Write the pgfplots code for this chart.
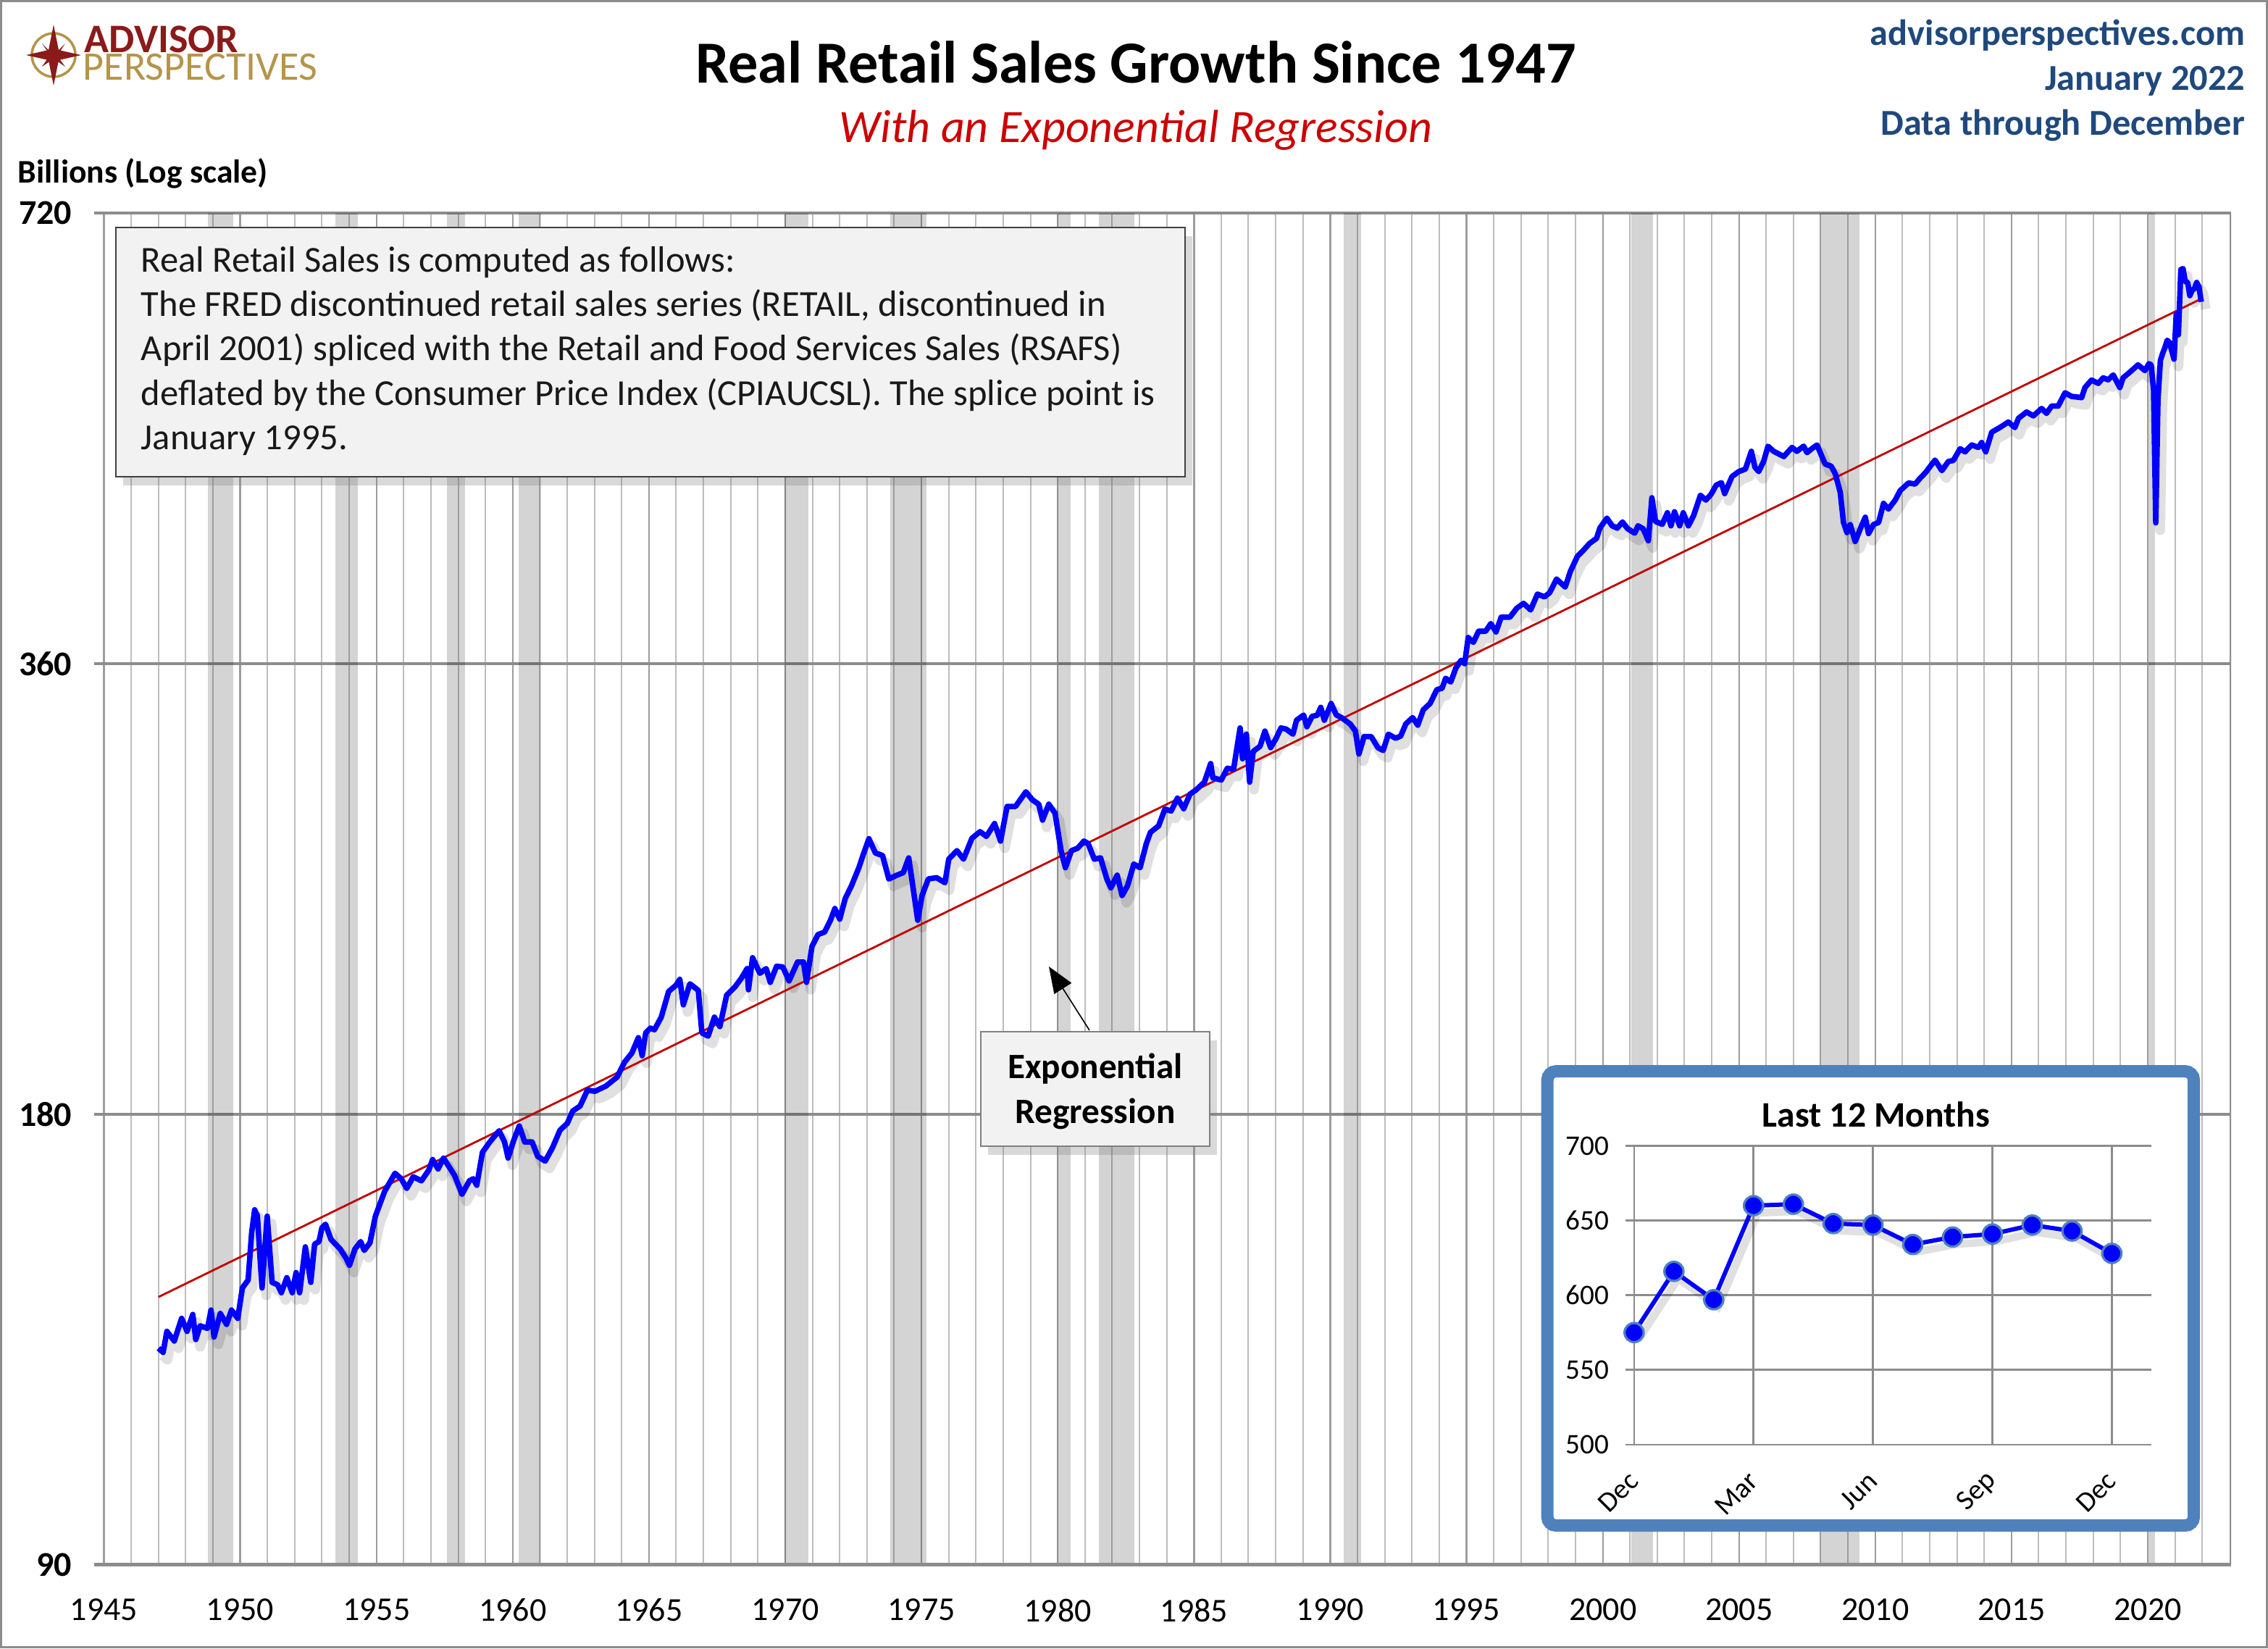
\documentclass[border=0pt]{standalone}
\usepackage{pgfplots}
\pgfplotsset{compat=1.18}
\usepackage{pgfplotstable}
\usepackage{fontspec}
\setmainfont{Carlito}
\usetikzlibrary{shadows,arrows.meta}
\definecolor{navy}{HTML}{1F497D}
\definecolor{apred}{HTML}{8B1A1A}
\definecolor{apgold}{HTML}{B5954A}
\definecolor{subred}{HTML}{CC0000}
\definecolor{regred}{HTML}{C00000}
\definecolor{inblue}{HTML}{4F81BD}
\definecolor{boxgray}{HTML}{F2F2F2}
\definecolor{gridminor}{HTML}{BDBDBD}
\definecolor{gridmajor}{HTML}{8C8C8C}

\pgfplotstableread{
year value
1947.00 125.6
1947.17 124.8
1947.31 128.9
1947.58 127.0
1947.85 131.5
1948.05 128.9
1948.26 132.3
1948.37 127.3
1948.53 130.0
1948.80 129.5
1948.93 133.2
1949.04 127.8
1949.27 132.5
1949.50 130.3
1949.68 133.2
1949.91 131.5
1950.08 137.8
1950.29 139.5
1950.42 150.0
1950.53 155.4
1950.63 154.0
1950.80 137.8
1950.99 153.9
1951.17 139.0
1951.37 138.5
1951.51 136.8
1951.71 140.0
1951.91 136.8
1952.05 141.1
1952.18 136.8
1952.39 146.8
1952.59 139.0
1952.73 147.4
1952.89 148.0
1953.00 151.2
1953.13 152.0
1953.33 148.5
1953.67 146.3
1953.88 144.3
1954.01 142.7
1954.21 146.3
1954.42 148.0
1954.55 146.0
1954.76 147.7
1954.96 153.9
1955.30 159.9
1955.43 161.4
1955.68 164.4
1955.91 163.0
1956.11 160.6
1956.35 163.5
1956.65 162.5
1956.92 165.2
1957.06 167.9
1957.26 165.5
1957.46 168.3
1957.87 163.8
1958.14 159.2
1958.41 162.5
1958.55 163.0
1958.68 161.4
1958.89 169.8
1959.16 172.5
1959.50 175.5
1959.70 172.5
1959.83 168.3
1960.04 173.0
1960.24 176.8
1960.44 172.5
1960.71 172.5
1960.92 168.7
1961.19 167.5
1961.46 171.0
1961.73 175.6
1962.00 177.5
1962.20 180.9
1962.47 182.3
1962.74 186.8
1963.02 186.5
1963.42 188.0
1963.83 190.6
1964.10 195.0
1964.37 197.8
1964.61 202.5
1964.75 197.0
1964.88 204.0
1965.05 205.5
1965.20 205.0
1965.45 209.0
1965.72 217.4
1965.99 219.5
1966.13 221.5
1966.26 213.0
1966.50 220.0
1966.81 217.8
1966.94 204.0
1967.17 203.0
1967.40 209.0
1967.60 206.0
1967.85 216.2
1968.16 219.0
1968.39 221.9
1968.60 225.2
1968.65 218.0
1968.80 229.0
1969.07 223.6
1969.30 225.2
1969.45 220.5
1969.68 226.0
1969.91 225.8
1970.14 221.0
1970.45 227.5
1970.67 227.5
1970.78 220.5
1970.98 233.0
1971.20 237.3
1971.44 238.2
1971.66 242.6
1971.82 247.0
1972.00 243.0
1972.20 250.8
1972.43 255.8
1972.70 263.0
1972.85 268.0
1973.07 275.0
1973.31 269.0
1973.57 268.0
1973.80 258.5
1974.10 260.0
1974.33 261.0
1974.53 267.0
1974.68 255.8
1974.86 242.6
1975.02 252.0
1975.25 258.5
1975.55 259.0
1975.86 257.0
1976.00 266.5
1976.30 270.0
1976.54 266.5
1976.85 275.2
1977.15 278.0
1977.38 276.0
1977.68 281.5
1977.90 274.0
1978.14 289.0
1978.45 289.0
1978.83 295.6
1979.06 292.0
1979.30 290.0
1979.44 283.0
1979.67 290.0
1979.90 286.0
1980.12 270.0
1980.28 263.0
1980.50 270.0
1980.73 271.0
1980.96 274.0
1981.11 273.0
1981.34 266.5
1981.57 267.0
1981.80 258.5
1981.95 255.0
1982.18 260.0
1982.36 252.0
1982.56 255.8
1982.79 264.5
1983.02 263.0
1983.25 273.0
1983.40 277.7
1983.70 280.5
1983.93 287.8
1984.16 287.0
1984.39 292.7
1984.62 288.0
1984.85 294.5
1985.08 296.5
1985.38 300.0
1985.61 308.7
1985.69 302.0
1986.00 301.0
1986.22 306.5
1986.45 306.0
1986.69 326.1
1986.78 311.0
1986.92 323.0
1987.04 300.0
1987.17 314.5
1987.42 317.0
1987.60 324.5
1987.81 316.4
1988.00 320.6
1988.19 326.1
1988.38 325.5
1988.63 323.0
1988.76 330.0
1989.02 332.6
1989.14 326.7
1989.33 332.0
1989.52 332.5
1989.65 336.6
1989.78 330.0
1990.03 338.6
1990.22 332.7
1990.41 331.3
1990.73 328.1
1990.92 324.5
1991.05 313.3
1991.24 321.8
1991.50 321.8
1991.75 316.3
1991.94 315.0
1992.13 323.0
1992.39 321.0
1992.58 322.0
1992.77 328.1
1993.02 331.3
1993.21 327.5
1993.41 335.3
1993.66 338.6
1993.91 345.9
1994.10 346.6
1994.23 352.0
1994.42 350.0
1994.61 357.7
1994.80 361.9
1994.93 360.0
1995.06 374.8
1995.25 372.0
1995.44 378.4
1995.70 378.4
1995.89 382.9
1996.08 378.0
1996.27 386.7
1996.59 386.7
1996.84 392.0
1997.09 395.0
1997.35 391.0
1997.60 400.6
1997.86 399.0
1998.05 401.5
1998.30 410.0
1998.62 405.0
1998.81 414.9
1999.07 424.7
1999.26 428.0
1999.51 433.0
1999.77 436.5
1999.89 443.4
2000.15 450.3
2000.34 445.0
2000.53 443.4
2000.72 447.6
2000.91 443.0
2001.17 440.0
2001.29 445.0
2001.48 443.0
2001.67 434.9
2001.80 464.6
2001.93 448.0
2002.18 446.0
2002.37 454.0
2002.50 445.0
2002.63 454.7
2002.82 445.0
2002.95 454.0
2003.14 445.0
2003.33 452.0
2003.58 466.4
2003.78 463.0
2003.97 467.0
2004.16 473.7
2004.35 475.5
2004.47 467.6
2004.74 480.0
2004.99 483.7
2005.23 485.5
2005.45 499.0
2005.58 487.0
2005.72 483.7
2005.90 491.3
2006.06 502.9
2006.27 499.0
2006.64 495.0
2006.94 502.0
2007.12 499.0
2007.37 503.0
2007.49 498.0
2007.67 501.0
2007.86 503.9
2008.04 495.0
2008.16 489.3
2008.38 487.7
2008.53 482.0
2008.71 468.7
2008.83 447.3
2008.96 440.4
2009.08 445.8
2009.26 434.4
2009.51 445.8
2009.63 450.9
2009.75 439.7
2009.93 445.8
2010.12 447.3
2010.30 460.6
2010.48 456.6
2010.73 463.0
2010.91 469.7
2011.22 475.3
2011.46 474.5
2011.64 478.7
2011.83 482.7
2012.19 492.3
2012.44 484.4
2012.68 491.3
2012.86 492.0
2013.11 501.0
2013.29 498.6
2013.54 503.9
2013.78 502.0
2013.90 505.8
2014.05 498.6
2014.27 513.9
2014.57 517.6
2014.88 522.0
2015.12 517.6
2015.25 524.9
2015.55 530.1
2015.80 527.0
2016.10 533.0
2016.28 529.0
2016.47 535.0
2016.71 535.0
2016.96 546.0
2017.20 543.0
2017.57 542.0
2017.69 550.4
2017.93 556.8
2018.18 554.0
2018.36 558.7
2018.54 557.0
2018.73 561.2
2018.97 550.4
2019.09 558.7
2019.34 563.6
2019.64 570.0
2019.89 565.0
2020.04 571.0
2020.12 570.0
2020.21 548.0
2020.29 447.0
2020.37 540.0
2020.46 574.0
2020.54 580.0
2020.62 585.0
2020.71 592.0
2020.79 590.0
2020.87 583.0
2020.96 575.0
2021.04 616.0
2021.12 597.0
2021.21 660.0
2021.29 661.0
2021.37 648.0
2021.46 647.0
2021.54 634.0
2021.62 639.0
2021.71 641.0
2021.79 647.0
2021.87 643.0
2021.96 628.0
}\sales

\pgfplotstableread{
m value
0 575
1 616
2 597
3 660
4 661
5 648
6 647
7 634
8 639
9 641
10 647
11 643
12 628
}\lastyear

\pgfplotstableread{
x y
1947 135.9
2022 631.5
}\regline

\begin{document}
\begin{tikzpicture}
\begin{scope}[x=0.5pt,y=-0.5pt]
\path[use as bounding box] (0,0) rectangle (1565.5,1137.5);
\end{scope}

\begin{axis}[
  at={(32.5pt,-540pt)}, anchor=south west,
  scale only axis, width=737.5pt, height=466.5pt,
  xmin=1944.641, xmax=2023.053,
  ymode=log, ymin=90, ymax=720,
  ytick={90,180,360,720}, yticklabels={90,180,360,720},
  yminorticks=false,
  xtick={1945,1950,1955,1960,1965,1970,1975,1980,1985,1990,1995,2000,2005,2010,2015,2020},
  xticklabels={1945,1950,1955,1960,1965,1970,1975,1980,1985,1990,1995,2000,2005,2010,2015,2020},
  minor xtick={1946,...,2022},
  xmajorgrids=true, xminorgrids=true, ymajorgrids=true,
  minor x grid style={gridminor, line width=0.5pt},
  major x grid style={gridmajor!85, line width=0.6pt},
  major y grid style={gridmajor, line width=0.9pt},
  axis line style={draw=none},
  major tick length=0pt, minor tick length=0pt,
  /pgf/number format/assume math mode=true,
  xticklabel style={font=\fontsize{11.5}{13}\selectfont, anchor=north, inner sep=0pt, yshift=-11.5pt},
  yticklabel style={font=\bfseries\fontsize{12}{14}\selectfont, anchor=east, inner sep=0pt, xshift=-7.5pt},
  clip=true,
]
% recession bands
\addplot[fill=black, fill opacity=0.17, draw=none, forget plot] coordinates {(1948.82,90)(1948.82,720)(1949.74,720)(1949.74,90)};
\addplot[fill=black, fill opacity=0.17, draw=none, forget plot] coordinates {(1953.48,90)(1953.48,720)(1954.32,720)(1954.32,90)};
\addplot[fill=black, fill opacity=0.17, draw=none, forget plot] coordinates {(1957.58,90)(1957.58,720)(1958.26,720)(1958.26,90)};
\addplot[fill=black, fill opacity=0.17, draw=none, forget plot] coordinates {(1960.22,90)(1960.22,720)(1961.04,720)(1961.04,90)};
\addplot[fill=black, fill opacity=0.17, draw=none, forget plot] coordinates {(1969.98,90)(1969.98,720)(1970.85,720)(1970.85,90)};
\addplot[fill=black, fill opacity=0.17, draw=none, forget plot] coordinates {(1973.84,90)(1973.84,720)(1975.17,720)(1975.17,90)};
\addplot[fill=black, fill opacity=0.17, draw=none, forget plot] coordinates {(1979.98,90)(1979.98,720)(1980.47,720)(1980.47,90)};
\addplot[fill=black, fill opacity=0.17, draw=none, forget plot] coordinates {(1981.51,90)(1981.51,720)(1982.81,720)(1982.81,90)};
\addplot[fill=black, fill opacity=0.17, draw=none, forget plot] coordinates {(1990.48,90)(1990.48,720)(1991.14,720)(1991.14,90)};
\addplot[fill=black, fill opacity=0.17, draw=none, forget plot] coordinates {(2001.05,90)(2001.05,720)(2001.83,720)(2001.83,90)};
\addplot[fill=black, fill opacity=0.17, draw=none, forget plot] coordinates {(2007.95,90)(2007.95,720)(2009.41,720)(2009.41,90)};
\addplot[fill=black, fill opacity=0.17, draw=none, forget plot] coordinates {(2020.03,90)(2020.03,720)(2020.26,720)(2020.26,90)};
\draw[gridmajor, line width=1.6pt] (rel axis cs:0,0) -- (rel axis cs:1,0);
\draw[gridmajor, line width=0.8pt] (rel axis cs:1,0) -- (rel axis cs:1,1);
% shadow and series
\addplot[black, opacity=0.12, line width=3.4pt, line join=round, xshift=1.5pt, yshift=-2.5pt, forget plot] table[x=year,y=value]{\sales};
\addplot[regred, line width=0.7pt] table[x=x,y=y]{\regline};
\addplot[blue, line width=1.9pt, line join=round] table[x=year,y=value]{\sales};
\end{axis}

\begin{scope}[x=0.5pt,y=-0.5pt]
% outer frame
\draw[black!45, line width=0.8pt] (0.8,0.8) rectangle (1564.7,1136.7);
% logo
\draw[apgold, line width=0.9pt] (37,38) circle (15);
\fill[apred] (37,17) -- (40.5,34.5) -- (56,38) -- (40.5,41.5) -- (37,59) -- (33.5,41.5) -- (18,38) -- (33.5,34.5) -- cycle;
\fill[apred] (37,38) -- (45,30) -- (39.5,38.5) -- (45,46) -- (37,40.5) -- (29,46) -- (34.5,38) -- (29,30) -- cycle;
\node[anchor=base west, inner sep=0pt, font=\bfseries\fontsize{14}{15}\selectfont, text=apred] at (58,36) {ADVISOR};
\node[anchor=base west, inner sep=0pt, font=\fontsize{14}{15}\selectfont, text=apgold] at (57,55) {PERSPECTIVES};
% titles
\node[anchor=base, inner sep=0pt, font=\bfseries\fontsize{20.6}{23}\selectfont] at (784,57) {Real Retail Sales Growth Since 1947};
\node[anchor=base, inner sep=0pt, font=\itshape\fontsize{16}{18}\selectfont, text=subred] at (784,98) {With an Exponential Regression};
\node[anchor=base east, inner sep=0pt, font=\bfseries\fontsize{12.6}{14}\selectfont, text=navy] at (1550,31) {advisorperspectives.com};
\node[anchor=base east, inner sep=0pt, font=\bfseries\fontsize{12.6}{14}\selectfont, text=navy] at (1550,62) {January 2022};
\node[anchor=base east, inner sep=0pt, font=\bfseries\fontsize{12.6}{14}\selectfont, text=navy] at (1550,93) {Data through December};
\node[anchor=base west, inner sep=0pt, font=\bfseries\fontsize{11.4}{13}\selectfont] at (12,126) {Billions (Log scale)};
% text box
\draw[black!75, line width=0.5pt, fill=boxgray, drop shadow={shadow xshift=2.5pt, shadow yshift=-3pt, opacity=0.3}] (80,157) rectangle (818,329);
\begin{scope}[every node/.style={anchor=base west, inner sep=0pt, font=\fontsize{12.65}{14}\selectfont, text=black!90}]
\node at (97,187.5) {Real Retail Sales is computed as follows:};
\node at (97,218.2) {The FRED discontinued retail sales series (RETAIL, discontinued in};
\node at (97,248.9) {April 2001) spliced with the Retail and Food Services Sales (RSAFS)};
\node at (97,279.6) {deflated by the Consumer Price Index (CPIAUCSL). The splice point is};
\node at (97,310.3) {January 1995.};
\end{scope}
% regression label
\draw[black!50, line width=0.5pt, fill=boxgray, drop shadow={shadow xshift=2.5pt, shadow yshift=-3pt, opacity=0.3}] (677,712) rectangle (835,791);
\node[anchor=base, inner sep=0pt, font=\bfseries\fontsize{12.3}{14}\selectfont] at (756,744) {Exponential};
\node[anchor=base, inner sep=0pt, font=\bfseries\fontsize{12.3}{14}\selectfont] at (756,775) {Regression};
\draw[black, line width=0.4pt, -{Triangle[length=9pt, width=7pt]}] (752,711) -- (724,667);
% inset frame
\draw[inblue, line width=4.25pt, fill=white, rounded corners=3pt] (1068.1,739.3) rectangle (1514.3,1052.8);
\node[inner sep=0pt, font=\bfseries\fontsize{12.4}{14}\selectfont] at (1295,769) {Last 12 Months};
\end{scope}

\begin{axis}[
  at={(560.95pt,-498.45pt)}, anchor=south west,
  scale only axis, width=181.65pt, height=103.05pt,
  xmin=-0.22, xmax=13, ymin=500, ymax=700,
  xtick={0,3,6,9,12}, xticklabels={Dec,Mar,Jun,Sep,Dec},
  ytick={500,550,600,650,700},
  xmajorgrids=true, ymajorgrids=true,
  major grid style={gridmajor, line width=0.65pt},
  axis line style={draw=none},
  major tick length=0pt,
  /pgf/number format/assume math mode=true,
  xticklabel style={font=\fontsize{9.8}{11}\selectfont, rotate=45, anchor=east, inner sep=0pt},
  xticklabel shift=11pt,
  yticklabel style={font=\fontsize{9.8}{11}\selectfont, anchor=east, inner sep=0pt, xshift=-5.5pt},
  clip=false,
]
\addplot[black, opacity=0.12, line width=2.6pt, xshift=1.5pt, yshift=-2.5pt, forget plot] table[x=m,y=value]{\lastyear};
\addplot[blue, line width=1.5pt, mark=*, mark size=3.3pt, mark options={fill=blue, draw=inblue, line width=0.8pt}] table[x=m,y=value]{\lastyear};
\end{axis}
\end{tikzpicture}
\end{document}
